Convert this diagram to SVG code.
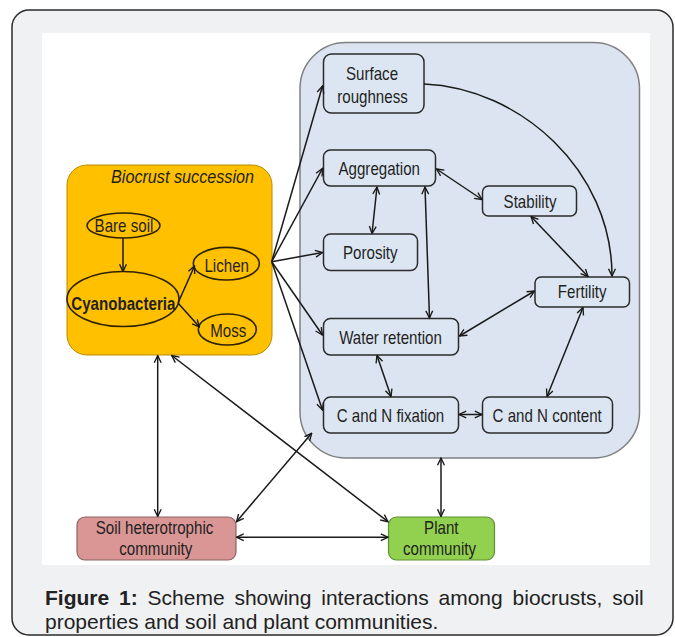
<svg xmlns="http://www.w3.org/2000/svg" width="675" height="637" viewBox="0 0 675 637">
<defs>
<marker id="ah" viewBox="0 0 10 10" refX="9" refY="5" markerWidth="9" markerHeight="9" markerUnits="userSpaceOnUse" orient="auto-start-reverse">
<path d="M1,1.2 L9,5 L1,8.8" fill="none" stroke="#1a1a1a" stroke-width="1.5"/>
</marker>
<style>
.t{font-family:"Liberation Sans",Arial,sans-serif;font-size:18px;fill:#1f1f1f;text-anchor:middle}
.box{fill:#dce6f2;stroke:#2b2b2b;stroke-width:1.5}
.ell{fill:none;stroke:#2e2200;stroke-width:1.6}
.c{fill:none;stroke:#1a1a1a;stroke-width:1.5}
.one{marker-end:url(#ah)}
.two{marker-start:url(#ah);marker-end:url(#ah)}
.cap{font-family:"Liberation Sans",Arial,sans-serif;font-size:21px;fill:#222}
</style>
</defs>
<rect x="12" y="10" width="661" height="625" rx="17" fill="#f0f1f3" stroke="#2b2b2b" stroke-width="1.5"/>
<rect x="42" y="33" width="608" height="532" fill="#ffffff"/>

<g id="soil-properties">
<rect x="300" y="42.5" width="339.5" height="415.5" rx="46" fill="#dbe4f0" stroke="#808080" stroke-width="1.5"/>
</g>

<g id="biocrust-succession">
<rect x="67" y="165" width="205" height="190" rx="20" fill="#ffc000" stroke="#b88a00" stroke-width="1"/>
<text class="t" font-style="italic" font-size="17" transform="translate(182.5,183.3) scale(0.9,1)">Biocrust succession</text>
</g>
<g id="bare-soil">
<ellipse class="ell" cx="123.5" cy="225.5" rx="36.5" ry="12.5"/>
<text class="t" transform="translate(124,231.5) scale(0.84,1)">Bare soil</text>
</g>
<g id="cyanobacteria">
<ellipse class="ell" cx="123" cy="299" rx="56" ry="27.5"/>
<text class="t" font-weight="bold" font-size="19" transform="translate(123.3,310) scale(0.84,1)">Cyanobacteria</text>
</g>
<g id="lichen">
<ellipse class="ell" cx="226.3" cy="263.7" rx="33" ry="16.3"/>
<text class="t" transform="translate(226.7,271.5) scale(0.84,1)">Lichen</text>
</g>
<g id="moss">
<ellipse class="ell" cx="227.3" cy="329.5" rx="29" ry="15.5"/>
<text class="t" transform="translate(228.3,337) scale(0.84,1)">Moss</text>
</g>

<g id="surface-roughness">
<rect class="box" x="323.5" y="54" width="100.5" height="59" rx="8"/>
<text class="t" transform="translate(372,80) scale(0.84,1)">Surface</text>
<text class="t" transform="translate(372.5,103) scale(0.84,1)">roughness</text>
</g>
<g id="aggregation">
<rect class="box" x="323.5" y="150" width="112" height="36" rx="7"/>
<text class="t" transform="translate(379.2,175) scale(0.84,1)">Aggregation</text>
</g>
<g id="stability">
<rect class="box" x="482.5" y="186" width="94" height="30" rx="6"/>
<text class="t" transform="translate(530,208) scale(0.84,1)">Stability</text>
</g>
<g id="porosity">
<rect class="box" x="323.5" y="234" width="94" height="36.5" rx="7"/>
<text class="t" transform="translate(370.3,259) scale(0.84,1)">Porosity</text>
</g>
<g id="fertility">
<rect class="box" x="535" y="277" width="94.5" height="30" rx="6"/>
<text class="t" transform="translate(582.2,297.5) scale(0.84,1)">Fertility</text>
</g>
<g id="water-retention">
<rect class="box" x="323.5" y="318.5" width="135" height="36.5" rx="7"/>
<text class="t" transform="translate(390.5,344.3) scale(0.84,1)">Water retention</text>
</g>
<g id="cn-fixation">
<rect class="box" x="323.5" y="397" width="135" height="36" rx="7"/>
<text class="t" transform="translate(390.5,421.7) scale(0.84,1)">C and N fixation</text>
</g>
<g id="cn-content">
<rect class="box" x="482.5" y="397" width="130" height="36" rx="7"/>
<text class="t" transform="translate(547.2,421.7) scale(0.84,1)">C and N content</text>
</g>

<g id="soil-heterotrophic-community">
<rect x="77" y="517" width="159" height="43" rx="8" fill="#d99694" stroke="#8a6563" stroke-width="1.2"/>
<text class="t" transform="translate(154.5,534) scale(0.84,1)">Soil heterotrophic</text>
<text class="t" transform="translate(155.8,554.5) scale(0.84,1)">community</text>
</g>
<g id="plant-community">
<rect x="388.5" y="517" width="106" height="43" rx="8" fill="#92d050" stroke="#5f8f33" stroke-width="1.2"/>
<text class="t" transform="translate(441.3,533.5) scale(0.84,1)">Plant</text>
<text class="t" transform="translate(439.5,554.5) scale(0.84,1)">community</text>
</g>

<g id="connectors">
<line class="c one" x1="123" y1="238" x2="123" y2="271.5"/>
<line class="c one" x1="178" y1="303" x2="194.5" y2="266"/>
<line class="c one" x1="178" y1="303" x2="199.5" y2="327"/>
<line class="c one" x1="271.7" y1="261.7" x2="322.5" y2="86"/>
<line class="c one" x1="271.7" y1="261.7" x2="322.5" y2="168.5"/>
<line class="c one" x1="271.7" y1="261.7" x2="322.5" y2="252.5"/>
<line class="c one" x1="271.7" y1="261.7" x2="322.5" y2="335"/>
<line class="c one" x1="271.7" y1="261.7" x2="322.5" y2="410"/>
<path class="c one" d="M424,84 C520,88 612,170 612,276"/>
<line class="c two" x1="436.5" y1="169" x2="482" y2="199.5"/>
<line class="c two" x1="377" y1="187" x2="372" y2="233.5"/>
<line class="c two" x1="425" y1="187" x2="429.5" y2="318"/>
<line class="c two" x1="531" y1="216.5" x2="588" y2="276.5"/>
<line class="c two" x1="534.5" y1="291" x2="459.5" y2="336"/>
<line class="c two" x1="583" y1="307.5" x2="547" y2="396.5"/>
<line class="c two" x1="377" y1="355.5" x2="391" y2="396.5"/>
<line class="c two" x1="459" y1="414.5" x2="482" y2="414.5"/>
<line class="c two" x1="157.7" y1="355.5" x2="157.7" y2="516.5"/>
<line class="c two" x1="171.7" y1="355.5" x2="388" y2="521.7"/>
<line class="c two" x1="236.5" y1="521.7" x2="311.7" y2="433.3"/>
<line class="c two" x1="441" y1="458" x2="441" y2="516.5"/>
<line class="c two" x1="236.5" y1="537.3" x2="388" y2="537.3"/>
</g>

<text class="cap" x="45" y="605" word-spacing="4"><tspan font-weight="bold">Figure 1:</tspan> Scheme showing interactions among biocrusts, soil</text>
<text class="cap" x="45" y="629">properties and soil and plant communities.</text>
</svg>
